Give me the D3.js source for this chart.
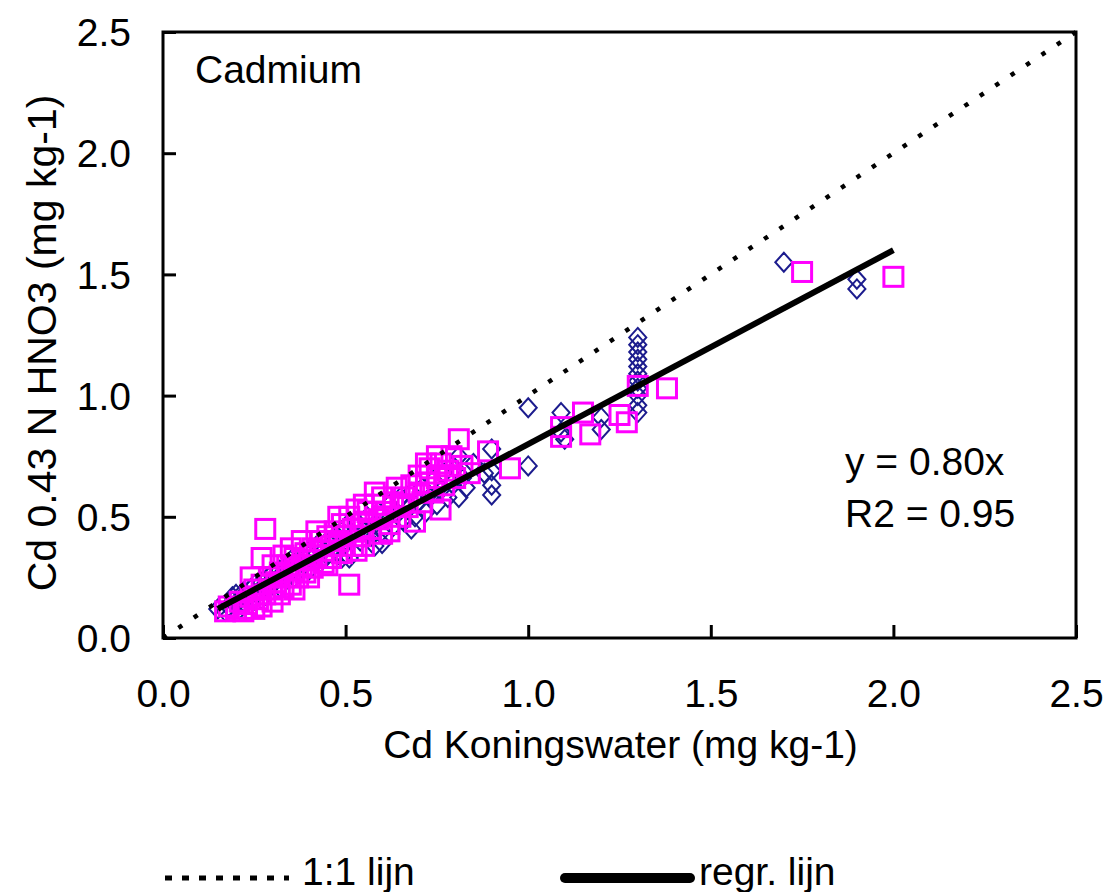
<!DOCTYPE html>
<html>
<head>
<meta charset="utf-8">
<script src="https://cdn.jsdelivr.net/npm/d3@7"></script>
<style>
  html, body { margin: 0; padding: 0; background: #fff; }
  svg text { font-family: "Liberation Sans", Arial, sans-serif; fill: #000; }
</style>
</head>
<body>
<svg id="chart" width="1109" height="892"></svg>
<script>
// ---- data ----
const xTicks = [0.0, 0.5, 1.0, 1.5, 2.0, 2.5];
const yTicks = [0.0, 0.5, 1.0, 1.5, 2.0, 2.5];
const xTitle = "Cd Koningswater (mg kg-1)";
const yTitle = "Cd 0.43 N HNO3 (mg kg-1)";
const panelLabel = "Cadmium";
const equationLines = ["y = 0.80x", "R2 = 0.95"];
const legendLabels = ["1:1 lijn", "regr. lijn"];
const regrSlope = 0.80;
const regrRange = [0.15, 2.0];
const oneToOneRange = [0.0, 2.5];

// series 1: diamonds (navy)
const diamondPts = [
 [0.15,0.12],[0.17,0.11],[0.18,0.13],[0.19,0.15],[0.19,0.17],[0.20,0.14],[0.20,0.18],[0.21,0.16],[0.21,0.12],[0.22,0.19],
 [0.22,0.15],[0.23,0.17],[0.24,0.20],[0.24,0.14],[0.25,0.22],[0.25,0.17],[0.26,0.19],[0.27,0.23],[0.27,0.16],[0.28,0.21],
 [0.29,0.25],[0.30,0.22],[0.30,0.27],[0.31,0.24],[0.32,0.28],[0.32,0.21],[0.33,0.26],[0.34,0.30],[0.35,0.27],[0.35,0.32],
 [0.36,0.25],[0.37,0.31],[0.38,0.29],[0.38,0.34],[0.39,0.32],[0.40,0.28],[0.40,0.36],[0.41,0.33],[0.42,0.38],[0.43,0.31],
 [0.44,0.36],[0.45,0.40],[0.45,0.34],[0.46,0.38],[0.47,0.42],[0.48,0.36],[0.49,0.44],[0.49,0.33],[0.50,0.35],[0.50,0.40],
 [0.50,0.46],[0.51,0.33],[0.52,0.43],[0.53,0.48],[0.54,0.40],[0.55,0.45],[0.56,0.50],[0.57,0.42],[0.58,0.38],[0.58,0.47],
 [0.59,0.52],[0.60,0.39],[0.60,0.44],[0.61,0.49],[0.62,0.55],[0.63,0.46],[0.64,0.51],[0.65,0.58],[0.66,0.48],[0.67,0.53],
 [0.68,0.45],[0.68,0.60],[0.69,0.50],[0.70,0.56],[0.71,0.62],[0.72,0.52],[0.73,0.58],[0.74,0.65],[0.75,0.55],[0.76,0.61],
 [0.77,0.68],[0.78,0.58],[0.79,0.64],[0.80,0.70],[0.81,0.58],[0.81,0.75],[0.82,0.66],[0.83,0.62],[0.85,0.72],[0.88,0.68],
 [0.90,0.59],[0.90,0.63],[0.90,0.69],[0.90,0.78],
 [1.00,0.95],[1.00,0.71],[1.09,0.93],[1.09,0.85],[1.10,0.82],[1.20,0.91],[1.20,0.86],
 [1.30,1.24],[1.30,1.21],[1.30,1.18],[1.30,1.15],[1.30,1.12],[1.30,1.09],[1.30,1.06],[1.30,1.03],[1.30,1.00],[1.30,0.96],[1.30,0.93],
 [1.70,1.55],[1.90,1.48],[1.90,1.44]
];

// series 2: squares (magenta)
const squarePts = [
 [0.17,0.11],[0.18,0.13],[0.20,0.12],[0.21,0.15],[0.22,0.11],[0.23,0.14],[0.24,0.17],[0.25,0.12],[0.25,0.20],[0.26,0.16],
 [0.27,0.13],[0.27,0.22],[0.28,0.18],[0.28,0.45],[0.27,0.33],[0.29,0.25],[0.30,0.15],[0.30,0.20],[0.31,0.23],[0.32,0.27],
 [0.32,0.18],[0.33,0.21],[0.34,0.25],[0.34,0.30],[0.35,0.22],[0.36,0.28],[0.36,0.33],[0.37,0.25],[0.38,0.30],[0.39,0.27],
 [0.39,0.35],[0.40,0.32],[0.41,0.37],[0.41,0.29],[0.42,0.34],[0.43,0.40],[0.44,0.31],[0.44,0.36],[0.45,0.42],[0.46,0.33],
 [0.46,0.38],[0.47,0.44],[0.48,0.40],[0.49,0.35],[0.49,0.47],[0.50,0.42],[0.51,0.22],[0.51,0.50],[0.52,0.38],[0.52,0.45],
 [0.53,0.53],[0.54,0.42],[0.55,0.48],[0.55,0.38],[0.56,0.52],[0.57,0.45],[0.58,0.55],[0.59,0.49],[0.60,0.43],[0.60,0.58],
 [0.61,0.52],[0.62,0.47],[0.63,0.56],[0.64,0.62],[0.65,0.50],[0.66,0.58],[0.67,0.54],[0.68,0.63],[0.69,0.48],[0.70,0.60],
 [0.70,0.67],[0.71,0.56],[0.72,0.64],[0.73,0.70],[0.74,0.60],[0.75,0.66],[0.76,0.53],[0.76,0.72],[0.77,0.63],[0.78,0.69],
 [0.79,0.75],[0.80,0.66],[0.81,0.82],[0.82,0.71],[0.84,0.68],[0.89,0.77],[0.95,0.70],
 [0.35,0.37],[0.38,0.40],[0.42,0.44],[0.45,0.30],[0.48,0.50],[0.53,0.36],[0.55,0.55],[0.58,0.60],[0.60,0.50],
 [0.62,0.44],[0.65,0.55],[0.72,0.72],[0.75,0.75],[0.30,0.30],[0.33,0.34],[0.24,0.25],[0.40,0.25],[0.36,0.20],
 [1.09,0.87],[1.09,0.83],[1.15,0.93],[1.17,0.84],[1.25,0.92],[1.27,0.89],[1.30,1.04],[1.38,1.03],[1.75,1.51],[2.00,1.49]
];

(function draw() {
  const svg = d3.select("#chart");
  const pL = 163, pR = 1076, pT = 32, pB = 638;
  const x = d3.scaleLinear().domain([0, 2.5]).range([pL, pR]);
  const y = d3.scaleLinear().domain([0, 2.5]).range([pB, pT]);
  const FS = 39;

  // markers
  const gPts = svg.append("g");
  const dr = 9.5;
  gPts.selectAll("path.dia").data(diamondPts).enter().append("path")
    .attr("class", "dia")
    .attr("d", d => `M${x(d[0])},${y(d[1]) - dr}L${x(d[0]) + dr * 0.9},${y(d[1])}L${x(d[0])},${y(d[1]) + dr}L${x(d[0]) - dr * 0.9},${y(d[1])}Z`)
    .attr("fill", "none").attr("stroke", "#1c1c8e").attr("stroke-width", 2);

  const sq = 19;
  gPts.selectAll("rect.sq").data(squarePts).enter().append("rect")
    .attr("class", "sq")
    .attr("x", d => x(d[0]) - sq / 2).attr("y", d => y(d[1]) - sq / 2)
    .attr("width", sq).attr("height", sq)
    .attr("fill", "none").attr("stroke", "#ff00ff").attr("stroke-width", 3);

  // 1:1 line
  svg.append("line")
    .attr("x1", x(oneToOneRange[0])).attr("y1", y(oneToOneRange[0]))
    .attr("x2", x(oneToOneRange[1])).attr("y2", y(oneToOneRange[1]))
    .attr("stroke", "#000").attr("stroke-width", 4.5).attr("stroke-dasharray", "4.5,14");

  // regression line
  svg.append("line")
    .attr("x1", x(regrRange[0])).attr("y1", y(regrRange[0] * regrSlope))
    .attr("x2", x(regrRange[1])).attr("y2", y(regrRange[1] * regrSlope))
    .attr("stroke", "#000").attr("stroke-width", 6);

  // frame
  svg.append("rect").attr("x", pL).attr("y", pT)
    .attr("width", pR - pL).attr("height", pB - pT)
    .attr("fill", "none").attr("stroke", "#000").attr("stroke-width", 3);

  // axes (ticks inside)
  const xAxis = d3.axisBottom(x).tickValues(xTicks).tickSizeInner(-13).tickSizeOuter(0)
    .tickFormat(d3.format(".1f"));
  const gx = svg.append("g").attr("transform", `translate(0,${pB})`).call(xAxis);
  gx.select(".domain").remove();
  gx.selectAll(".tick line").attr("stroke", "#000").attr("stroke-width", 3);
  gx.selectAll(".tick text").attr("font-size", FS).attr("font-family", "Liberation Sans, Arial, sans-serif")
    .attr("fill", "#000").attr("dy", null).attr("y", 707 - pB);

  const yAxis = d3.axisLeft(y).tickValues(yTicks).tickSizeInner(-13).tickSizeOuter(0)
    .tickFormat(d3.format(".1f"));
  const gy = svg.append("g").attr("transform", `translate(${pL},0)`).call(yAxis);
  gy.select(".domain").remove();
  gy.selectAll(".tick line").attr("stroke", "#000").attr("stroke-width", 3);
  gy.selectAll(".tick text").attr("font-size", FS).attr("font-family", "Liberation Sans, Arial, sans-serif")
    .attr("fill", "#000").attr("x", 131 - pL).attr("dy", "0.35em").attr("text-anchor", "end");

  // titles
  svg.append("text").attr("x", (pL + pR) / 2 + 1).attr("y", 758)
    .attr("text-anchor", "middle").attr("font-size", FS).text(xTitle);
  svg.append("text").attr("transform", `translate(56,${(pT + pB) / 2 + 8}) rotate(-90)`)
    .attr("text-anchor", "middle").attr("font-size", 41).text(yTitle);

  // panel label
  svg.append("text").attr("x", 195).attr("y", 83).attr("font-size", FS).text(panelLabel);

  // equation
  svg.selectAll("text.eq").data(equationLines).enter().append("text")
    .attr("class", "eq").attr("x", 845).attr("y", (d, i) => 475 + i * 52)
    .attr("font-size", FS).text(d => d);

  // legend
  const lgY = 878;
  svg.append("line").attr("x1", 165).attr("x2", 289).attr("y1", lgY).attr("y2", lgY)
    .attr("stroke", "#000").attr("stroke-width", 5).attr("stroke-dasharray", "7,10");
  svg.append("text").attr("x", 302).attr("y", 885).attr("font-size", FS).text(legendLabels[0]);
  svg.append("line").attr("x1", 565).attr("x2", 690).attr("y1", lgY).attr("y2", lgY)
    .attr("stroke", "#000").attr("stroke-width", 10).attr("stroke-linecap", "round");
  svg.append("text").attr("x", 699).attr("y", 885).attr("font-size", FS).text(legendLabels[1]);
})();
</script>
</body>
</html>
